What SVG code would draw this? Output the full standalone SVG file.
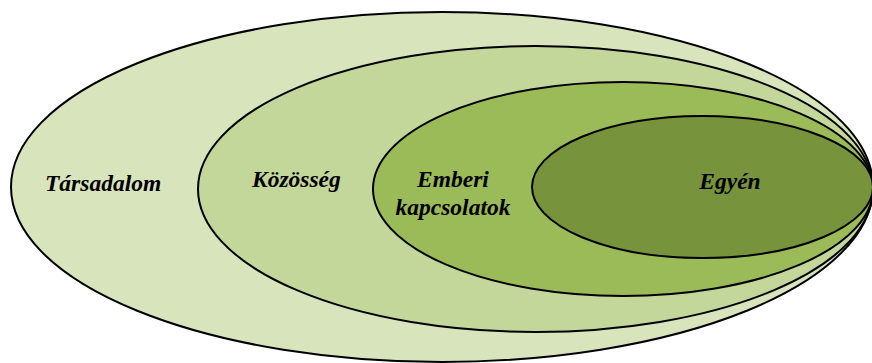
<svg xmlns="http://www.w3.org/2000/svg" width="872" height="363" viewBox="0 0 872 363">
<style>
.ring{stroke:#000;stroke-width:2}
.lbl{font-family:'Liberation Serif','Times New Roman',serif;font-weight:700;font-style:italic;font-size:23.5px;fill:#000}
</style>
<rect width="872" height="363" fill="#fff"/>
<g id="tarsadalom">
<ellipse class="ring" cx="442" cy="187" rx="431" ry="175" fill="#d8e4bc"/>
<text class="lbl" x="45" y="191">Társadalom</text>
</g>
<g id="kozosseg">
<ellipse class="ring" cx="535.5" cy="189" rx="337.5" ry="143" fill="#c4d79b"/>
<text class="lbl" x="252" y="187">Közösség</text>
</g>
<g id="emberi-kapcsolatok">
<ellipse class="ring" cx="623" cy="189" rx="250" ry="107" fill="#9bbb59"/>
<text class="lbl" x="453" y="187" text-anchor="middle">Emberi</text>
<text class="lbl" x="453" y="215" text-anchor="middle">kapcsolatok</text>
</g>
<g id="egyen">
<ellipse class="ring" cx="702.5" cy="187" rx="170.5" ry="71" fill="#77933c"/>
<text class="lbl" x="730" y="189" text-anchor="middle">Egyén</text>
</g>
<g id="connectors"/>
</svg>
